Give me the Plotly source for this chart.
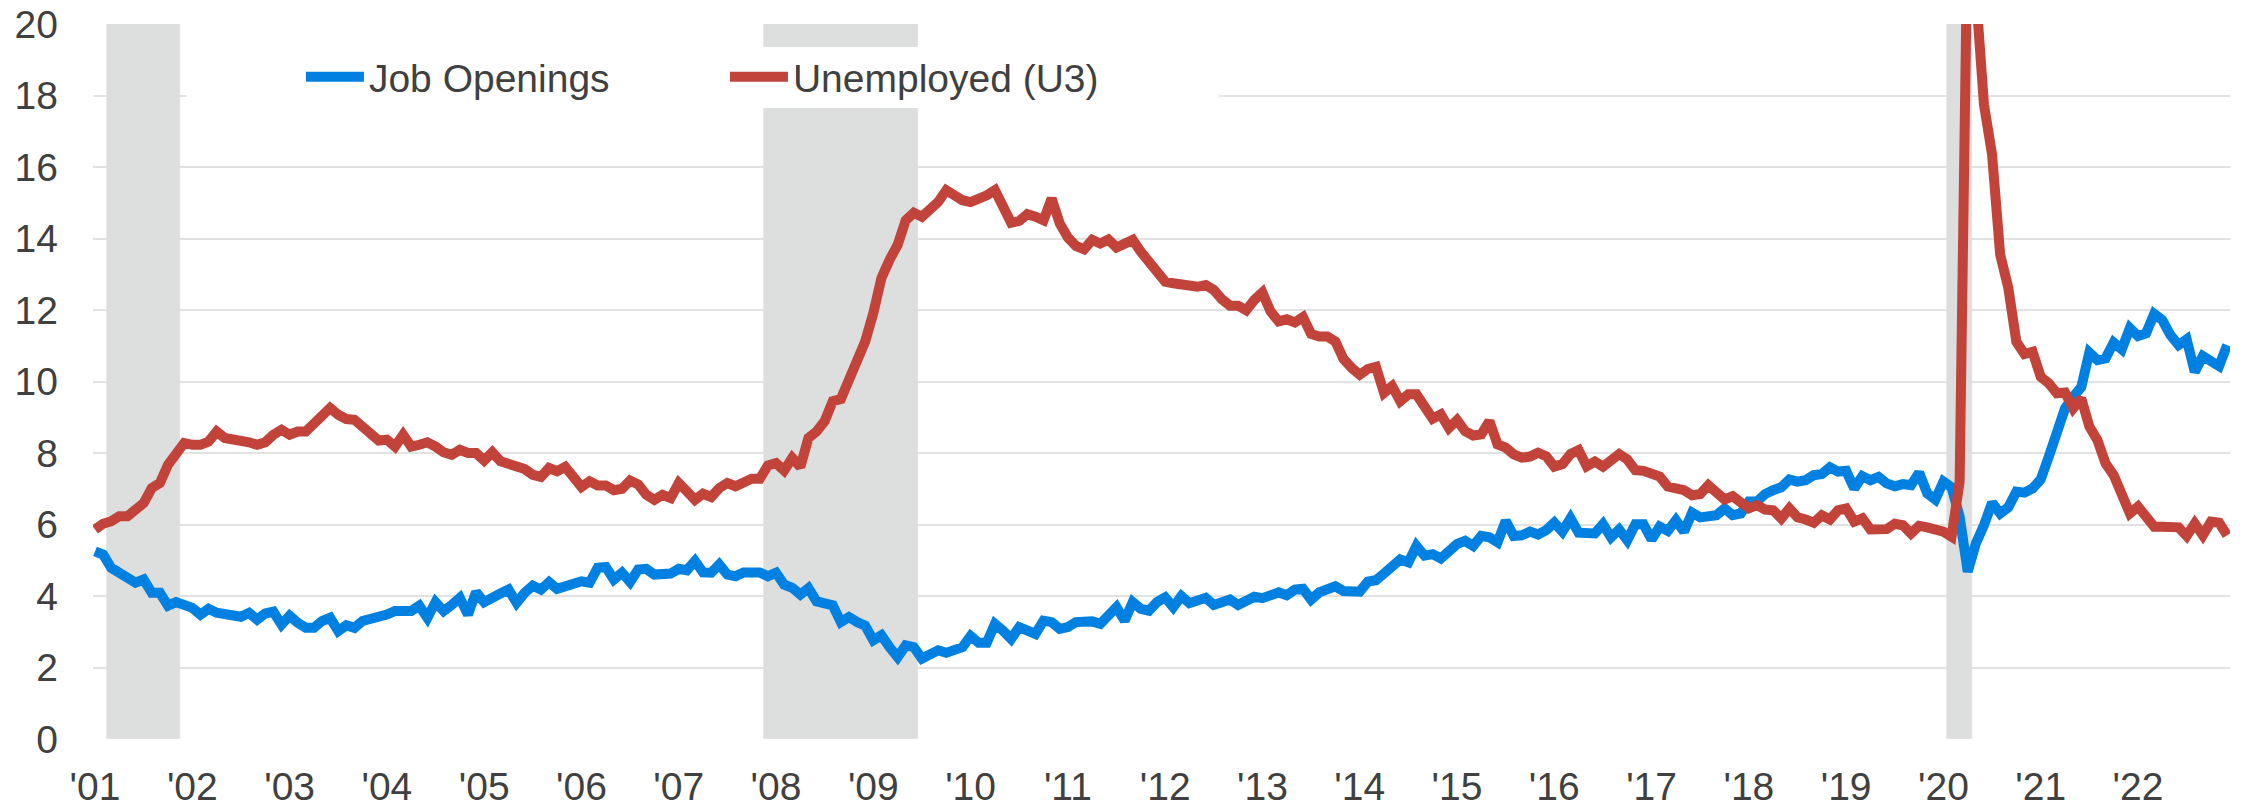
import pandas as pd
import plotly.graph_objects as go

# ---------------- data (millions, monthly Jan 2001 - Dec 2022) ----------------
months = pd.date_range("2001-01-01", "2022-12-01", freq="MS")

job_openings = [
    5.25, 5.16, 4.79, 4.65, 4.46, 4.37, 4.46, 4.09, 4.09, 3.73, 3.83, 3.76,  # 2001
    3.67, 3.48, 3.64, 3.53, 3.51, 3.47, 3.42, 3.53, 3.34, 3.51, 3.56, 3.20,  # 2002
    3.45, 3.25, 3.11, 3.11, 3.30, 3.39, 3.02, 3.18, 3.11, 3.30, 3.34, 3.44,  # 2003
    3.48, 3.58, 3.58, 3.58, 3.73, 3.39, 3.83, 3.58, 3.75, 3.95, 3.48, 4.11,  # 2004
    3.83, 3.98, 4.07, 4.18, 3.81, 4.09, 4.29, 4.18, 4.39, 4.20, 4.26, 4.29,  # 2005
    4.41, 4.37, 4.79, 4.81, 4.46, 4.65, 4.39, 4.74, 4.76, 4.60, 4.62, 4.63,  # 2006
    4.76, 4.72, 4.98, 4.66, 4.65, 4.88, 4.60, 4.55, 4.66, 4.66, 4.66, 4.55,  # 2007
    4.65, 4.32, 4.23, 4.04, 4.22, 3.85, 3.83, 3.74, 3.27, 3.41, 3.27, 3.17,  # 2008
    2.76, 2.90, 2.57, 2.29, 2.62, 2.57, 2.25, 2.34, 2.48, 2.41, 2.52, 2.57,  # 2009
    2.88, 2.69, 2.69, 3.22, 3.03, 2.80, 3.13, 3.03, 2.94, 3.31, 3.27, 3.08,  # 2010
    3.13, 3.27, 3.31, 3.29, 3.22, 3.50, 3.69, 3.31, 3.83, 3.64, 3.59, 3.83,  # 2011
    3.96, 3.69, 4.00, 3.80, 3.85, 3.95, 3.75, 3.82, 3.90, 3.75, 3.86, 3.98,  # 2012
    3.94, 4.02, 4.10, 4.02, 4.18, 4.20, 3.90, 4.10, 4.15, 4.27, 4.14, 4.12,  # 2013
    4.12, 4.40, 4.44, 4.63, 4.80, 5.02, 4.94, 5.40, 5.13, 5.17, 5.05, 5.30,  # 2014
    5.45, 5.54, 5.40, 5.68, 5.64, 5.50, 6.10, 5.68, 5.70, 5.80, 5.72, 5.84,  # 2015
    6.05, 5.80, 6.17, 5.77, 5.75, 5.75, 6.01, 5.64, 5.86, 5.56, 6.01, 6.01,  # 2016
    5.58, 5.94, 5.82, 6.12, 5.80, 6.33, 6.20, 6.22, 6.26, 6.45, 6.26, 6.31,  # 2017
    6.64, 6.64, 6.85, 6.96, 7.04, 7.26, 7.20, 7.24, 7.38, 7.41, 7.60, 7.48,  # 2018
    7.50, 7.01, 7.35, 7.24, 7.33, 7.15, 7.07, 7.13, 7.10, 7.45, 6.87, 6.70,  # 2019
    7.20, 7.04, 6.22, 4.68, 5.47, 5.98, 6.61, 6.31, 6.48, 6.92, 6.89, 7.01,  # 2020
    7.26, 7.90, 8.55, 9.25, 9.57, 9.84, 10.81, 10.60, 10.65, 11.09, 10.90, 11.49,  # 2021
    11.27, 11.35, 11.89, 11.72, 11.30, 11.02, 11.18, 10.27, 10.71, 10.53, 10.43, 11.02,  # 2022
]

unemployed_u3 = [
    5.86, 6.02, 6.09, 6.23, 6.23, 6.46, 6.60, 7.02, 7.16, 7.67, 8.02, 8.28,  # 2001
    8.23, 8.23, 8.32, 8.60, 8.42, 8.39, 8.39, 8.30, 8.23, 8.30, 8.51, 8.65,  # 2002
    8.51, 8.60, 8.60, 8.84, 8.98, 9.26, 9.07, 8.95, 8.93, 8.74, 8.60, 8.35,  # 2003
    8.37, 8.18, 8.51, 8.18, 8.23, 8.30, 8.18, 8.02, 7.95, 8.09, 8.00, 8.00,  # 2004
    7.79, 8.02, 7.77, 7.70, 7.67, 7.55, 7.39, 7.33, 7.58, 7.49, 7.61, 7.30,  # 2005
    7.05, 7.21, 7.09, 7.09, 6.96, 7.00, 7.23, 7.12, 6.83, 6.69, 6.83, 6.74,  # 2006
    7.16, 6.93, 6.69, 6.86, 6.77, 7.02, 7.16, 7.07, 7.21, 7.28, 7.28, 7.65,  # 2007
    7.72, 7.51, 7.86, 7.61, 8.42, 8.60, 8.89, 9.45, 9.51, 10.05, 10.56, 11.12,  # 2008
    11.91, 12.89, 13.40, 13.82, 14.51, 14.72, 14.61, 14.84, 15.02, 15.35, 15.21, 15.07,  # 2009
    15.02, 15.09, 15.21, 15.35, 14.84, 14.44, 14.49, 14.68, 14.61, 14.51, 15.12, 14.42,  # 2010
    14.03, 13.79, 13.70, 13.96, 13.86, 13.97, 13.75, 13.82, 13.96, 13.63, 13.35, 13.12,  # 2011
    12.79, 12.75, 12.70, 12.64, 12.65, 12.70, 12.56, 12.30, 12.12, 12.12, 11.99, 12.28,  # 2012
    12.49, 11.96, 11.68, 11.74, 11.65, 11.80, 11.33, 11.26, 11.26, 11.12, 10.63, 10.38,  # 2013
    10.19, 10.35, 10.41, 9.68, 9.87, 9.45, 9.64, 9.64, 9.26, 8.96, 9.08, 8.70,  # 2014
    8.92, 8.61, 8.49, 8.52, 8.89, 8.24, 8.15, 7.96, 7.87, 7.90, 8.01, 7.91,  # 2015
    7.62, 7.69, 7.97, 8.08, 7.63, 7.76, 7.62, 7.80, 7.97, 7.82, 7.52, 7.50,  # 2016
    7.45, 7.34, 7.06, 7.04, 6.96, 6.82, 6.85, 7.10, 6.87, 6.70, 6.79, 6.59,  # 2017
    6.45, 6.54, 6.42, 6.40, 6.17, 6.45, 6.20, 6.14, 6.05, 6.26, 6.14, 6.40,  # 2018
    6.45, 6.08, 6.17, 5.86, 5.90, 5.87, 6.02, 5.98, 5.75, 5.96, 5.92, 5.86,  # 2019
    5.80, 5.66, 7.20, 23.10, 20.90, 17.75, 16.35, 13.55, 12.62, 11.11, 10.77, 10.83,  # 2020
    10.13, 9.95, 9.67, 9.69, 9.25, 9.53, 8.74, 8.36, 7.71, 7.38, 6.78, 6.31,  # 2021
    6.50, 6.26, 5.94, 5.94, 5.94, 5.92, 5.68, 6.03, 5.70, 6.08, 6.05, 5.70,  # 2022
]

# NBER recessions (first month, last month)
recession_start = ["2001-03", "2007-12", "2020-02"]
recession_end = ["2001-11", "2009-06", "2020-04"]

series_names = ["Job Openings", "Unemployed (U3)"]
y_max = 20

# ---------------- derived positions ----------------
x_idx = list(range(len(months)))
rec_x = []
for s, e in zip(recession_start, recession_end):
    for i, m in enumerate(months):
        if pd.Timestamp(s) <= m <= pd.Timestamp(e):
            rec_x.append(i)

year_tick_vals = [i for i, m in enumerate(months) if m.month == 1]
year_tick_text = ["'" + m.strftime("%y") for m in months if m.month == 1]

BLUE = "#0080E0"
RED = "#C1433A"
GREY_BAND = "#DDDEDE"
GRID = "#E2E2E2"
TEXT = "#404040"
FONT = "Liberation Sans, Arial, sans-serif"

fig = go.Figure()

fig.add_trace(go.Bar(
    x=rec_x, y=[y_max] * len(rec_x), width=1.0,
    marker=dict(color=GREY_BAND, line=dict(color=GREY_BAND, width=0.6)),
    showlegend=False, hoverinfo="skip",
))

fig.add_trace(go.Scatter(
    x=x_idx, y=job_openings, mode="lines", name=series_names[0],
    line=dict(color=BLUE, width=10),
))
fig.add_trace(go.Scatter(
    x=x_idx, y=unemployed_u3, mode="lines", name=series_names[1],
    line=dict(color=RED, width=10),
))

# white backdrop behind the legend (hides grid line and recession band there)
fig.add_shape(type="rect", xref="paper", yref="paper",
              x0=0.044, x1=0.527, y0=0.8825, y1=0.968,
              fillcolor="white", line=dict(width=0), layer="above")

fig.update_layout(
    width=2247, height=807,
    margin=dict(l=93, r=17, t=24, b=68, autoexpand=False),
    paper_bgcolor="white", plot_bgcolor="white",
    font=dict(family=FONT, size=39, color=TEXT),
    bargap=0,
    showlegend=True,
    legend=dict(
        orientation="h", x=0.0973, xanchor="left", y=0.926, yanchor="middle",
        bgcolor="rgba(0,0,0,0)", font=dict(family=FONT, size=39, color=TEXT),
        entrywidth=351, entrywidthmode="pixels", itemwidth=58,
        traceorder="normal",
    ),
    xaxis=dict(
        range=[-0.25, 263.35], tickmode="array",
        tickvals=year_tick_vals, ticktext=year_tick_text,
        showgrid=False, zeroline=False, showline=False, ticks="",
        tickfont=dict(family=FONT, size=39, color=TEXT),
        ticklabelstandoff=21, automargin=False,
    ),
    yaxis=dict(
        range=[0, y_max], dtick=2, tick0=0,
        showgrid=True, gridcolor=GRID, gridwidth=2,
        zeroline=False, showline=False, ticks="",
        tickfont=dict(family=FONT, size=39, color=TEXT),
        ticklabelstandoff=34, automargin=False,
    ),
)

fig.write_html(
    "out.html",
    config={"displayModeBar": False},
    post_script="document.body.style.margin='0';document.body.style.overflow='hidden';",
)
